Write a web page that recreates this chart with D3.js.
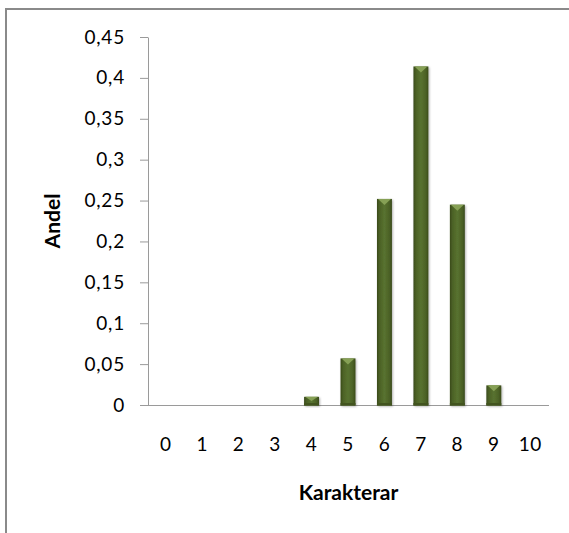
<!DOCTYPE html>
<html>
<head>
<meta charset="utf-8">
<script src="https://cdn.jsdelivr.net/npm/d3@7"></script>
<style>
  html, body { margin: 0; padding: 0; background: #fff; }
  svg { display: block; }
  .tick text { font-family: Lato, "Open Sans", sans-serif; font-size: 19px; fill: #000; }
  .title { font-family: Lato, "Open Sans", sans-serif; font-size: 21px; font-weight: bold; fill: #000; }
</style>
</head>
<body>
<script>
// Grade distribution: share of students per grade
const categories = ["0", "1", "2", "3", "4", "5", "6", "7", "8", "9", "10"];
const shares = [0, 0, 0, 0, 0.01, 0.057, 0.252, 0.414, 0.245, 0.024, 0];
const yTickValues = [0, 0.05, 0.1, 0.15, 0.2, 0.25, 0.3, 0.35, 0.4, 0.45];
const yTickLabels = ["0", "0,05", "0,1", "0,15", "0,2", "0,25", "0,3", "0,35", "0,4", "0,45"];
const xTitle = "Karakterar";
const yTitle = "Andel";

const W = 569, H = 533;
const svg = d3.select("body").append("svg").attr("width", W).attr("height", H);

const defs = svg.append("defs");
const grad = defs.append("linearGradient").attr("id", "barBody")
  .attr("x1", "0").attr("x2", "1").attr("y1", "0").attr("y2", "0");
[["0%", "#3a4a1b"], ["18%", "#4c6226"], ["50%", "#587230"], ["82%", "#4c6226"], ["100%", "#3a4a1b"]]
  .forEach(([o, c]) => grad.append("stop").attr("offset", o).attr("stop-color", c));
const shadow = defs.append("filter").attr("id", "barShadow")
  .attr("x", "-50%").attr("y", "-20%").attr("width", "200%").attr("height", "140%");
shadow.append("feDropShadow").attr("dx", 1).attr("dy", 1).attr("stdDeviation", 1.2)
  .attr("flood-color", "#000").attr("flood-opacity", 0.3);

// Frame around the chart area
svg.append("rect").attr("x", 6).attr("y", 9).attr("width", 620).attr("height", 600)
  .attr("fill", "#fff").attr("stroke", "#8a8a8a").attr("stroke-width", 2);

const x = d3.scaleBand().domain(categories).range([147.5, 548.5])
  .paddingInner(0.59).paddingOuter(0.295);
const y = d3.scaleLinear().domain([0, 0.45]).range([405, 37]);

// Y axis
const yAxis = svg.append("g").attr("transform", "translate(148,0)")
  .call(d3.axisLeft(y).tickValues(yTickValues)
    .tickFormat((d, i) => yTickLabels[i]).tickSize(8).tickSizeOuter(0).tickPadding(15));
yAxis.selectAll("path, line").attr("stroke", "#9a9a9a");
yAxis.selectAll("text").attr("letter-spacing", "0.8px");

// X axis
const xAxis = svg.append("g").attr("transform", "translate(0,405)")
  .call(d3.axisBottom(x).tickSize(0).tickSizeOuter(0).tickPadding(33));
xAxis.select("path").attr("stroke", "#9a9a9a");
xAxis.selectAll("text").attr("letter-spacing", "0.5px");

// Bars with bevelled tops
const bars = svg.append("g").selectAll("g").data(categories.map((c, i) => ({ c, v: shares[i] })))
  .join("g").filter(d => d.v > 0);
bars.append("rect")
  .attr("x", d => x(d.c)).attr("width", x.bandwidth())
  .attr("y", d => y(d.v)).attr("height", d => y(0) - y(d.v) + 0.5)
  .attr("fill", "url(#barBody)").attr("filter", "url(#barShadow)");
bars.append("path")
  .attr("d", d => {
    const x0 = x(d.c), x1 = x0 + x.bandwidth(), t = y(d.v);
    const depth = Math.min(6, (y(0) - t) / 2);
    const mid = (x0 + x1) / 2;
    return `M${x0 + 1},${t}L${x1 - 1},${t}L${mid},${t + depth}Z`;
  })
  .attr("fill", "#86a055");
bars.append("rect")
  .attr("x", d => x(d.c)).attr("width", x.bandwidth())
  .attr("y", d => y(0) - Math.min(2, (y(0) - y(d.v)) / 3)).attr("height", d => Math.min(2, (y(0) - y(d.v)) / 3) + 0.5)
  .attr("fill", "#42541f");

// Axis titles
svg.append("text").attr("class", "title")
  .attr("x", (x.range()[0] + x.range()[1]) / 2 + 0.5).attr("y", 500)
  .attr("text-anchor", "middle").text(xTitle);
svg.append("text").attr("class", "title")
  .attr("transform", `translate(51,${(y(0) + y(0.45)) / 2}) rotate(-90)`)
  .attr("text-anchor", "middle").attr("dominant-baseline", "central").text(yTitle);
</script>
</body>
</html>
